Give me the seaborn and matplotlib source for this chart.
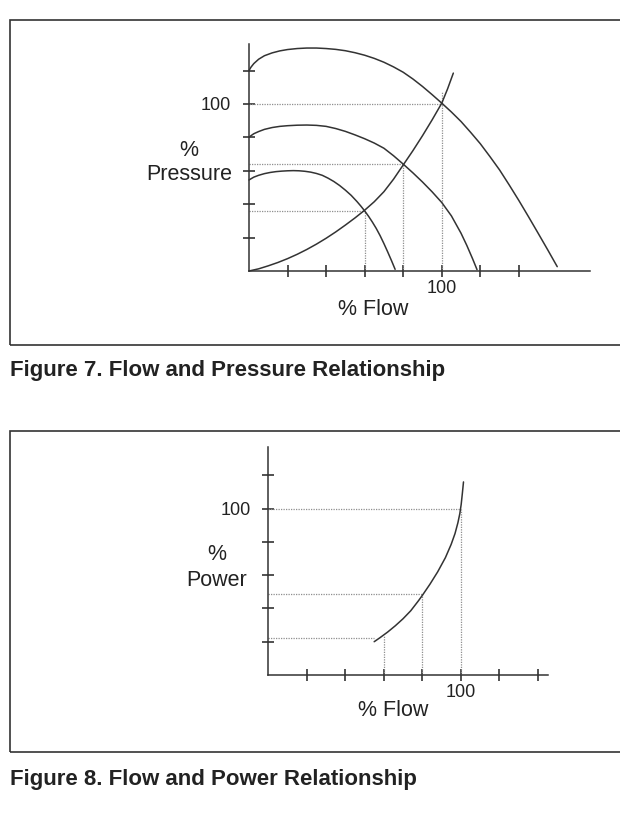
import matplotlib
matplotlib.use("Agg")
import matplotlib.pyplot as plt
import matplotlib.patches as mpatches
import seaborn as sns
import pandas as pd

# ---------------- data ----------------
# Figure 7: pump curves at three speeds and the system curve (% flow vs % pressure)
pump100_flow = [0, 1, 2.5, 5, 8, 12, 16, 20, 25, 30, 35, 40, 45, 50, 55, 60, 65, 70, 75, 80, 85, 90,
                95, 100, 105, 110, 115, 120, 125, 130, 135, 140, 145, 150, 155, 159.9]
pump100_pres = [120, 122, 124.2, 126.8, 128.9, 130.6, 131.8, 132.6, 133.2, 133.5, 133.5, 133.2, 132.7,
                131.9, 130.7, 129.2, 127.3, 125, 122.2, 119, 115, 110.5, 105.6, 100.5, 95.2, 89.5,
                83, 76.2, 68.5, 60.5, 51.5, 42.2, 32.5, 22.6, 12.6, 2.6]

pump80_flow = [0, 1, 2.5, 5, 8, 12, 16, 20, 25, 30, 35, 40, 45, 50, 55, 60, 65, 70, 75, 80, 85, 90,
               95, 100, 105, 110, 113, 116, 118.3]
pump80_pres = [80, 81, 82.2, 83.5, 84.8, 85.9, 86.6, 87, 87.3, 87.4, 87.2, 86.6, 85.3, 83.6, 81.5,
               79.2, 76.6, 73.5, 69, 64, 58.8, 53.3, 47.4, 41, 33, 22.6, 15.3, 7.3, 0.8]

pump60_flow = [0, 1, 2.5, 5, 8, 11, 14, 17, 20, 23, 26, 29, 32, 35, 38, 41, 44, 47, 50, 53, 56,
               58, 60, 62, 64, 66, 68, 70, 72, 74, 75.8]
pump60_pres = [54.5, 55.2, 56.2, 57.3, 58.3, 59, 59.5, 59.8, 60, 60.1, 60, 59.7, 59.2, 58.4, 57.3,
               55.6, 53.6, 51.2, 48.4, 45.3, 41.6, 38.9, 36, 32.8, 29.3, 25.5, 21.2, 16.4, 11.3,
               6, 1]

system_flow = [0, 5, 10, 15, 20, 25, 30, 35, 40, 45, 50, 55, 60, 65, 70, 75, 80, 85, 90, 95, 100,
               103, 106]
system_pres = [0, 1.3, 3.1, 5.1, 7.4, 10, 12.9, 16.1, 19.6, 23.4, 27.5, 31.8, 36.4, 41.5, 47.5,
               55, 63.5, 72, 81, 90.5, 100.5, 109, 118.5]

# operating points (dotted guides)
op7_flow = [60, 80, 100]
op7_pres = [36, 64, 100]
op7_vtop = [36, 64, 107]

# Figure 8: power curve (% flow vs % power)
power_flow = [55, 58, 62, 66, 70, 74, 78, 80, 84, 88, 92, 95, 97, 98.5, 99.5, 100.2, 100.8, 101.4]
power_pow = [20, 22.4, 25.8, 29.6, 33.8, 38.6, 44.6, 47.8, 54.6, 62, 70.5, 78.5, 85, 91.5, 97,
             102.5, 109, 116]

op8_flow = [60, 80, 100]
op8_pow = [22, 48.5, 100]
op8_hend = [55, 80.3, 99.7]
op8_vtop = [23.5, 48.5, 100]

tick_values = [20, 40, 60, 80, 100, 120, 140]
ytick_values = [20, 40, 60, 80, 100, 120]
tick_label_shown = "100"

caption7 = "Figure 7. Flow and Pressure Relationship"
caption8 = "Figure 8. Flow and Power Relationship"

# ---------------- style ----------------
sns.set_theme(style="white")
plt.rcParams["font.family"] = ["Liberation Sans", "DejaVu Sans"]

W, H = 620, 814
fig = plt.figure(figsize=(W / 100, H / 100), dpi=100)
fig.patch.set_facecolor("white")

LINE = "#333333"
DOT = "#8f8f8f"
TXT = "#222222"


def fx(px):
    return px / W


def fy(py):
    return 1 - py / H


def make_axes(left, right, top, bottom, xmax, ymax):
    ax = fig.add_axes([fx(left), fy(bottom), fx(right - left), (bottom - top) / H])
    ax.set_xlim(0, xmax)
    ax.set_ylim(0, ymax)
    ax.set_facecolor("none")
    for s in ["top", "right"]:
        ax.spines[s].set_visible(False)
    for s in ["left", "bottom"]:
        ax.spines[s].set_color(LINE)
        ax.spines[s].set_linewidth(1.1)
    return ax


def style_ticks(ax, xpad, ypad):
    ax.set_xticks(tick_values)
    ax.set_xticklabels([tick_label_shown if str(v) == tick_label_shown else "" for v in tick_values])
    ax.set_yticks(ytick_values)
    ax.set_yticklabels([tick_label_shown if str(v) == tick_label_shown else "" for v in ytick_values])
    ax.tick_params(axis="both", which="major", bottom=True, left=True, top=False, right=False,
                   direction="inout", length=8.6, width=1.2, color=LINE,
                   labelsize=13, labelcolor=TXT)
    ax.tick_params(axis="x", pad=xpad)
    ax.tick_params(axis="y", pad=ypad)
    ax.set_xlabel("")
    ax.set_ylabel("")


def curve(ax, xs, ys):
    df = pd.DataFrame({"x": xs, "y": ys})
    sns.lineplot(data=df, x="x", y="y", ax=ax, sort=False, estimator=None,
                 color=LINE, linewidth=1.1, clip_on=False, zorder=3)


def dotted_h(ax, y, x1):
    ax.plot([0, x1], [y, y], color=DOT, linestyle=(0, (1, 1)), linewidth=0.9, zorder=1)


def dotted_v(ax, x, y1):
    ax.plot([x, x], [0, y1], color=DOT, linestyle=(0, (1, 1)), linewidth=0.9, zorder=1)


# ---------------- Figure 7 ----------------
ax1 = make_axes(249, 590, 43.7, 271, 176.9, 136.1)
for f, p, vt in zip(op7_flow, op7_pres, op7_vtop):
    dotted_h(ax1, p, f)
    dotted_v(ax1, f, vt)
curve(ax1, pump100_flow, pump100_pres)
curve(ax1, pump80_flow, pump80_pres)
curve(ax1, pump60_flow, pump60_pres)
curve(ax1, system_flow, system_pres)
style_ticks(ax1, xpad=2.5, ypad=9)

fig.text(fx(189), fy(150), "%", ha="center", va="center", fontsize=15.5, color=TXT)
fig.text(fx(189), fy(174), "Pressure", ha="center", va="center", fontsize=15.5, color=TXT)
fig.text(fx(373.4), fy(309), "% Flow", ha="center", va="center", fontsize=15.5, color=TXT)

# ---------------- Figure 8 ----------------
ax2 = make_axes(268.3, 548, 447.3, 675, 145.3, 136.8)
for f, p, he, vt in zip(op8_flow, op8_pow, op8_hend, op8_vtop):
    dotted_h(ax2, p, he)
    dotted_v(ax2, f, vt)
curve(ax2, power_flow, power_pow)
style_ticks(ax2, xpad=2, ypad=8.5)

fig.text(fx(217), fy(555), "%", ha="center", va="center", fontsize=15.5, color=TXT)
fig.text(fx(217), fy(580), "Power", ha="center", va="center", fontsize=15.5, color=TXT)
fig.text(fx(393), fy(710), "% Flow", ha="center", va="center", fontsize=15.5, color=TXT)

# ---------------- frames and captions ----------------
for top, bottom in [(19.5, 344.5), (430.7, 752)]:
    rect = mpatches.Rectangle((fx(10), fy(bottom)), fx(640 - 10), (bottom - top) / H,
                              transform=fig.transFigure, fill=False,
                              edgecolor=LINE, linewidth=1.2)
    fig.patches.append(rect)

fig.text(fx(10), fy(370), caption7, ha="left", va="center", fontsize=16,
         fontweight="bold", color=TXT)
fig.text(fx(10), fy(779), caption8, ha="left", va="center", fontsize=16,
         fontweight="bold", color=TXT)

fig.savefig("out.png", dpi=100, facecolor="white")
